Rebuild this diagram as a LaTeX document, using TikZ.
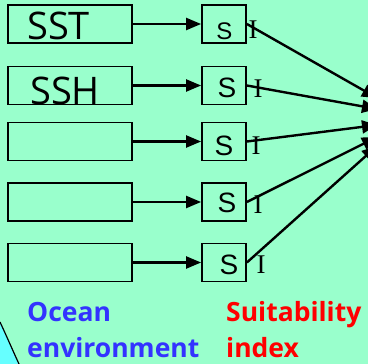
\documentclass[tikz,border=0pt]{standalone}
\usepackage{fontspec}
\setmainfont{Open Sans}
\newfontfamily\arialfont{Liberation Sans}
\newfontfamily\timesfont{Liberation Serif}
\definecolor{OCEmint}{HTML}{99FFCC}
\definecolor{OCEcyan}{HTML}{66FFFF}
\definecolor{OCEblue}{HTML}{3333FF}
\definecolor{OCEred}{HTML}{FF0000}
\usetikzlibrary{arrows.meta, positioning}

\begin{document}
\begin{tikzpicture}[x=1pt, y=-1pt,
   varbox/.style={draw, line width=1.8pt, minimum width=124pt, minimum height=38pt, inner sep=0pt},
   sbox/.style={draw, line width=1.8pt, minimum width=44pt, minimum height=38pt, inner sep=0pt},
   varname/.style={anchor=base west, inner sep=0pt, font=\fontsize{38}{38}\selectfont},
   sname/.style={anchor=base, inner sep=0pt, font=\arialfont\fontsize{28}{28}\selectfont},
   iname/.style={anchor=base, inner sep=0pt, font=\timesfont\fontsize{27}{27}\selectfont},
   feed/.style={-{Triangle[length=15pt, width=12pt]}, line width=2.2pt},
   link/.style={-{Triangle[length=15pt, width=13pt]}, line width=2.4pt},
   caption/.style={anchor=base west, inner sep=0pt, font=\bfseries\fontsize{26.5}{26.5}\selectfont}]
   \useasboundingbox (0,0) rectangle (368,364);
   \clip (0,0) rectangle (368,364);
   % Background and lower left disc
   \fill[OCEmint] (0,0) rectangle (368,364);
   \fill[OCEcyan] (0,322) .. controls (7,337) and (13,351) .. (19,364) -- (0,364) -- cycle;
   \draw[line width=1.2pt] (0,322) .. controls (7,337) and (13,351) .. (19,364);
   % Ocean variables
   \node[varbox] (v1) at (70,24) {};
   \node[varbox] (v2) at (70,85.5) {};
   \node[varbox] (v3) at (70,141.5) {};
   \node[varbox] (v4) at (70,202) {};
   \node[varbox] (v5) at (70,262.5) {};
   \node[varname] (sst) at (27,40) {SST};
   \node[varname] (ssh) at (30,104) {SSH};
   % Suitability boxes
   \node[sbox] (s1) at (224,24) {};
   \node[sbox] (s2) at (224,85.5) {};
   \node[sbox] (s3) at (224,141.5) {};
   \node[sbox] (s4) at (224,202) {};
   \node[sbox] (s5) at (224,262.5) {};
   \node[sname, font=\arialfont\fontsize{24}{24}\selectfont] (l1) at (224.5,39) {S};
   \node[sname] (l2) at (227,97) {S};
   \node[sname] (l3) at (224,155) {S};
   \node[sname] (l4) at (227,213) {S};
   \node[sname] (l5) at (229,274) {S};
   \node[iname] (i1) at (253,38) {I};
   \node[iname] (i2) at (258,97) {I};
   \node[iname] (i3) at (256,154) {I};
   \node[iname] (i4) at (258,214) {I};
   \node[iname] (i5) at (261,273) {I};
   % Feeds into S
   \draw[feed] (v1) -- (s1);
   \draw[feed] (v2) -- (s2);
   \draw[feed] (v3) -- (s3);
   \draw[feed] (v4) -- (s4);
   \draw[feed] (v5) -- (s5);
   % Links to the combined index (off the right edge)
   \coordinate (t1) at (377,98);
   \coordinate (t2) at (377,109);
   \coordinate (t3) at (377,125);
   \coordinate (t4) at (377,137);
   \coordinate (t5) at (377,146);
   \draw[link] (s1.east) -- (t1);
   \draw[link] (s2.east) -- (t2);
   \draw[link] (s3.east) -- (t3);
   \draw[link] (s4.east) -- (t4);
   \draw[link] (s5.east) -- (t5);
   % Captions
   \node[caption, OCEblue] (ocean) at (27,321) {Ocean};
   \node[caption, OCEblue] (env) at (27,358) {environment};
   \node[caption, OCEred] (suit) at (226,321) {Suitability};
   \node[caption, OCEred] (index) at (226,358) {index};
\end{tikzpicture}
\end{document}
